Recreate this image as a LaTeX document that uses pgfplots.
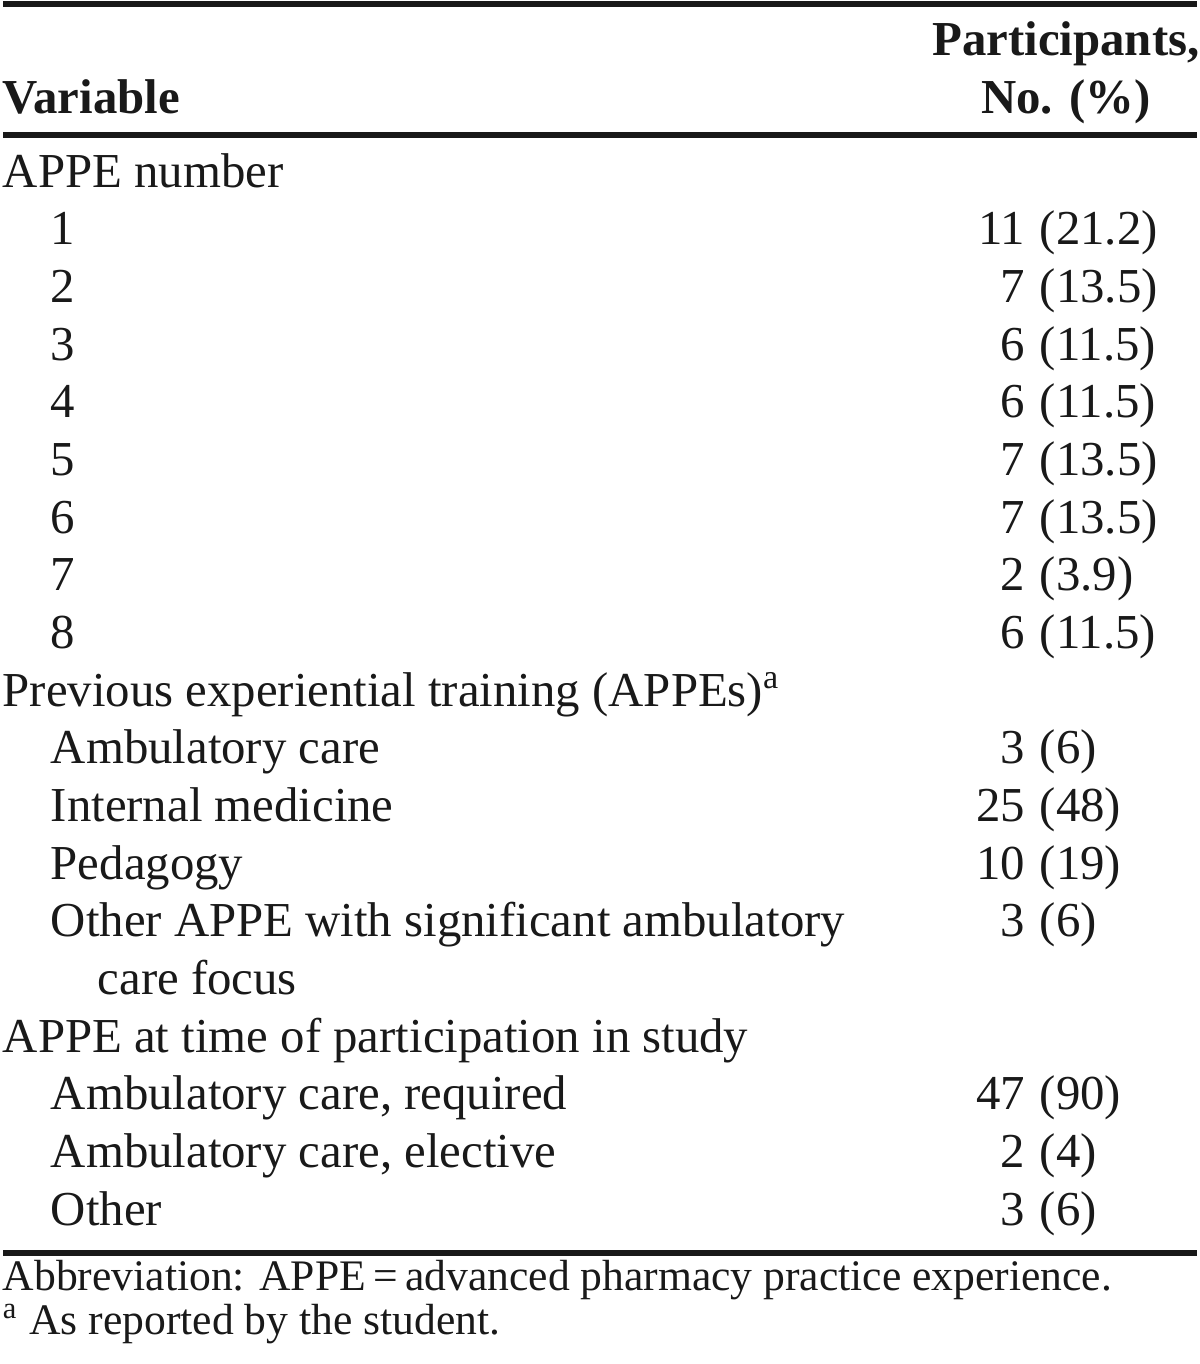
\documentclass[border=0pt]{standalone}
\usepackage{pgfplots}
\pgfplotsset{compat=1.18}
\usepackage{pgfplotstable}
\usepackage{fontspec}
\setmainfont{Liberation Serif}

% row labels: x = indent (px), y = baseline (px from top)
\pgfplotstableread[col sep=semicolon]{
x;y;label
2;187;APPE number
50;244.7;1
50;302.3;2
50;360.0;3
50;417.7;4
50;475.3;5
50;533.0;6
50;590.7;7
50;648.4;8
2;706.0;{Previous experiential training (APPEs)\textsuperscript{a}}
50;763.7;Ambulatory care
50;821.4;Internal medicine
50;879.0;Pedagogy
50;936.7;Other APPE with significant ambulatory
97;994.4;care focus
2;1052.1;APPE at time of participation in study
50;1109.7;{Ambulatory care, required}
50;1167.4;{Ambulatory care, elective}
50;1225.1;Other
}\labels

% participants: count and percentage
\pgfplotstableread[col sep=semicolon]{
y;n;p
244.7;11;(21.2)
302.3;7;(13.5)
360.0;6;(11.5)
417.7;6;(11.5)
475.3;7;(13.5)
533.0;7;(13.5)
590.7;2;(3.9)
648.4;6;(11.5)
763.7;3;(6)
821.4;25;(48)
879.0;10;(19)
936.7;3;(6)
1109.7;47;(90)
1167.4;2;(4)
1225.1;3;(6)
}\values

\begin{document}
\begin{tikzpicture}
\begin{axis}[
  scale only axis, width=300pt, height=341pt,
  xmin=0, xmax=1200, ymin=0, ymax=1364, y dir=reverse,
  hide axis, clip=false,
]
% bounding box
\addplot[draw=none, mark=none] coordinates {(0,0) (1200,1364)};
% rules
\addplot[black!90, line width=1.6pt, mark=none] coordinates {(3.3,4) (1196.7,4)};
\addplot[black!90, line width=1.6pt, mark=none] coordinates {(3.3,135) (1196.7,135)};
\addplot[black!90, line width=1.6pt, mark=none] coordinates {(3.3,1253) (1196.7,1253)};
% row labels
\addplot[draw=none, mark=none, nodes near coords, point meta=explicit symbolic,
  every node near coord/.append style={anchor=base west, inner sep=0pt, text=black!90,
  font=\fontsize{12.2}{15}\selectfont}]
  table[x=x, y=y, meta=label] {\labels};
% counts
\addplot[draw=none, mark=none, nodes near coords, point meta=explicit symbolic,
  every node near coord/.append style={anchor=base east, inner sep=0pt, text=black!90,
  font=\fontsize{12.2}{15}\selectfont}]
  table[x expr=1026, y=y, meta=n] {\values};
% percentages
\addplot[draw=none, mark=none, nodes near coords, point meta=explicit symbolic,
  every node near coord/.append style={anchor=base west, inner sep=0pt, text=black!90,
  font=\fontsize{12.2}{15}\selectfont}]
  table[x expr=1039, y=y, meta=p] {\values};
% header
\node[anchor=base west, inner sep=0pt, text=black!90, font=\fontsize{12.2}{15}\selectfont\bfseries]
  at (axis cs:2,113) {Variable};
\node[anchor=base, inner sep=0pt, text=black!90, font=\fontsize{12.2}{15}\selectfont\bfseries]
  at (axis cs:1066,55) {Participants,};
\node[anchor=base, inner sep=0pt, text=black!90, font=\fontsize{12.2}{15}\selectfont\bfseries]
  at (axis cs:1066,113) {No. (\%)};
% footnotes
\node[anchor=base west, inner sep=0pt, text=black!90, font=\fontsize{10.9}{13}\selectfont]
  at (axis cs:2,1290) {Abbreviation: APPE\,=\,advanced pharmacy practice experience.};
\node[anchor=base west, inner sep=0pt, text=black!90, font=\fontsize{10.9}{13}\selectfont]
  at (axis cs:2,1334) {\textsuperscript{a} As reported by the student.};
\end{axis}
\end{tikzpicture}
\end{document}
